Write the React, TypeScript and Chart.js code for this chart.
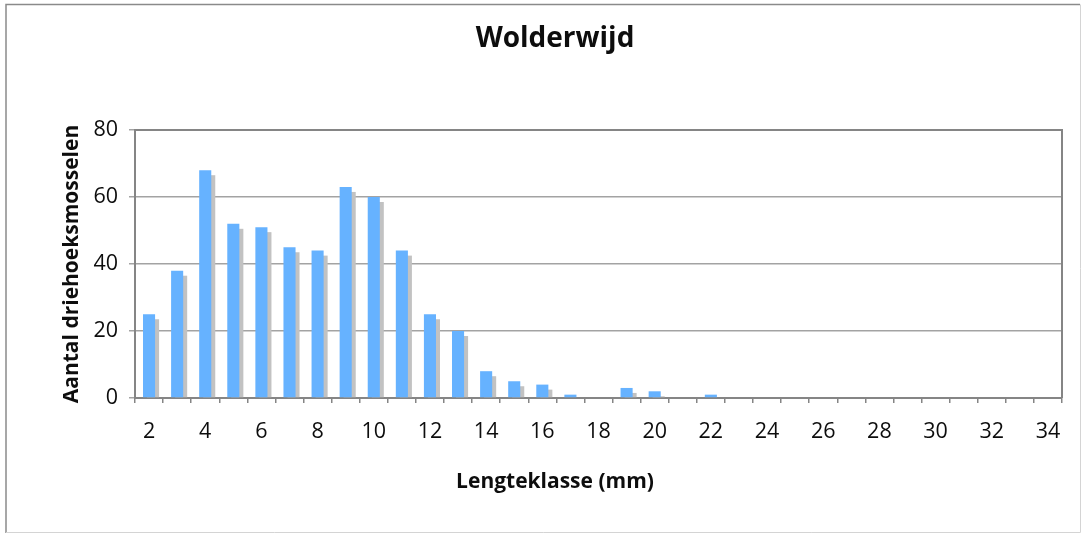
import React, { useEffect, useRef } from "react";
import { Chart, registerables } from "chart.js";

Chart.register(...registerables);

// Length classes (mm) and number of zebra mussels counted per class
const lengthClasses = [
  "2", "3", "4", "5", "6", "7", "8", "9", "10", "11", "12", "13", "14", "15", "16", "17", "18",
  "19", "20", "21", "22", "23", "24", "25", "26", "27", "28", "29", "30", "31", "32", "33", "34",
];
const musselCounts = [
  25, 38, 68, 52, 51, 45, 44, 63, 60, 44, 25, 20, 8, 5, 4, 1, 0,
  3, 2, 0, 1, 0, 0, 0, 0, 0, 0, 0, 0, 0, 0, 0, 0,
];
const xTickLabels = ["2", "4", "6", "8", "10", "12", "14", "16", "18", "20", "22", "24", "26", "28", "30", "32", "34"];
const yTicks = [0, 20, 40, 60, 80];

const chartTitle = "Wolderwijd";
const xTitle = "Lengteklasse (mm)";
const yTitle = "Aantal driehoeksmosselen";

const FONT = "'Open Sans', 'Noto Sans', sans-serif";
const TEXT = "#0d0d0d";
const BAR_BLUE = "#66b2ff";
const SHADOW_GREY = "#c2c2c2";
const AXIS_GREY = "#858585";
const GRID_GREY = "#a3a3a3";

// Grey drop shadow behind each bar, offset right and down
const barShadow = {
  id: "barShadow",
  beforeDatasetsDraw(chart: any) {
    const { ctx } = chart;
    const meta = chart.getDatasetMeta(0);
    ctx.save();
    ctx.fillStyle = SHADOW_GREY;
    meta.data.forEach((bar: any) => {
      const { x, y, base, width } = bar.getProps(["x", "y", "base", "width"], true);
      const top = Math.min(y + 5, base);
      if (base - top <= 0) return;
      ctx.fillRect(x - width / 2 + 4, top, width, base - top);
    });
    ctx.restore();
  },
};

// Plot-area outline (top / right) and the outer chart frame
const frames = {
  id: "frames",
  afterDatasetsDraw(chart: any) {
    const { ctx, chartArea } = chart;
    ctx.save();
    ctx.strokeStyle = AXIS_GREY;
    ctx.lineWidth = 2;
    ctx.beginPath();
    ctx.moveTo(chartArea.left, chartArea.top);
    ctx.lineTo(chartArea.right, chartArea.top);
    ctx.lineTo(chartArea.right, chartArea.bottom);
    ctx.stroke();
    ctx.restore();
  },
  afterDraw(chart: any) {
    const { ctx } = chart;
    ctx.save();
    ctx.lineWidth = 1.5;
    ctx.strokeStyle = "#8a8a8a";
    ctx.beginPath();
    ctx.moveTo(6, 533);
    ctx.lineTo(6, 4.5);
    ctx.lineTo(1080, 4.5);
    ctx.stroke();
    ctx.lineWidth = 1;
    ctx.strokeStyle = "#d4d4d4";
    ctx.beginPath();
    ctx.moveTo(1080.5, 4.5);
    ctx.lineTo(1080.5, 532.5);
    ctx.lineTo(6, 532.5);
    ctx.stroke();
    ctx.restore();
  },
};

export default function App() {
  const canvasRef = useRef<HTMLCanvasElement | null>(null);

  useEffect(() => {
    const canvas = canvasRef.current;
    if (!canvas) return;
    const chart = new Chart(canvas, {
      type: "bar",
      data: {
        labels: lengthClasses,
        datasets: [
          {
            data: musselCounts,
            backgroundColor: BAR_BLUE,
            borderWidth: 0,
            barPercentage: 0.43,
            categoryPercentage: 1,
          },
        ],
      },
      options: {
        responsive: false,
        animation: false,
        devicePixelRatio: 1,
        layout: { padding: { left: 48, right: 22, top: 0, bottom: 0 } },
        plugins: {
          legend: { display: false },
          tooltip: { enabled: false },
          title: {
            display: true,
            text: chartTitle,
            color: TEXT,
            font: { family: FONT, size: 28, weight: "bold" },
            padding: { top: 22, bottom: 74.4 },
          },
          // x-axis caption, centred under the whole chart box
          subtitle: {
            display: true,
            position: "bottom",
            text: xTitle,
            color: TEXT,
            font: { family: FONT, size: 21, weight: "bold" },
            padding: { top: 11, bottom: 39.8 },
          },
        },
        scales: {
          x: {
            offset: true,
            afterFit(scale: any) {
              scale.height = 60;
            },
            grid: {
              offset: true,
              drawOnChartArea: false,
              drawTicks: true,
              tickLength: 5,
              color: AXIS_GREY,
              lineWidth: 1.5,
            },
            border: { display: true, color: AXIS_GREY, width: 2 },
            ticks: {
              autoSkip: false,
              maxRotation: 0,
              minRotation: 0,
              padding: 16,
              color: TEXT,
              font: { family: FONT, size: 21.5 },
              callback(_value: any, index: number) {
                const label = lengthClasses[index];
                return xTickLabels.includes(label) ? label : "";
              },
            },
          },
          y: {
            min: yTicks[0],
            max: yTicks[yTicks.length - 1],
            afterFit(scale: any) {
              scale.width = 87;
            },
            afterBuildTicks(scale: any) {
              scale.ticks = yTicks.map((v) => ({ value: v }));
            },
            grid: {
              color: GRID_GREY,
              lineWidth: 1.5,
              drawTicks: true,
              tickLength: 6,
            },
            border: { display: true, color: AXIS_GREY, width: 2 },
            ticks: {
              padding: 11,
              color: TEXT,
              font: { family: FONT, size: 21.5 },
            },
            title: {
              display: true,
              text: yTitle,
              color: TEXT,
              font: { family: FONT, size: 21, weight: "bold" },
              padding: { top: 11, bottom: 0 },
            },
          },
        },
      },
      plugins: [barShadow, frames],
    });
    return () => chart.destroy();
  }, []);

  return (
    <div style={{ position: "absolute", left: 0, top: 0, width: 1084, height: 534, background: "#fff" }}>
      <canvas ref={canvasRef} width={1084} height={534} />
    </div>
  );
}
